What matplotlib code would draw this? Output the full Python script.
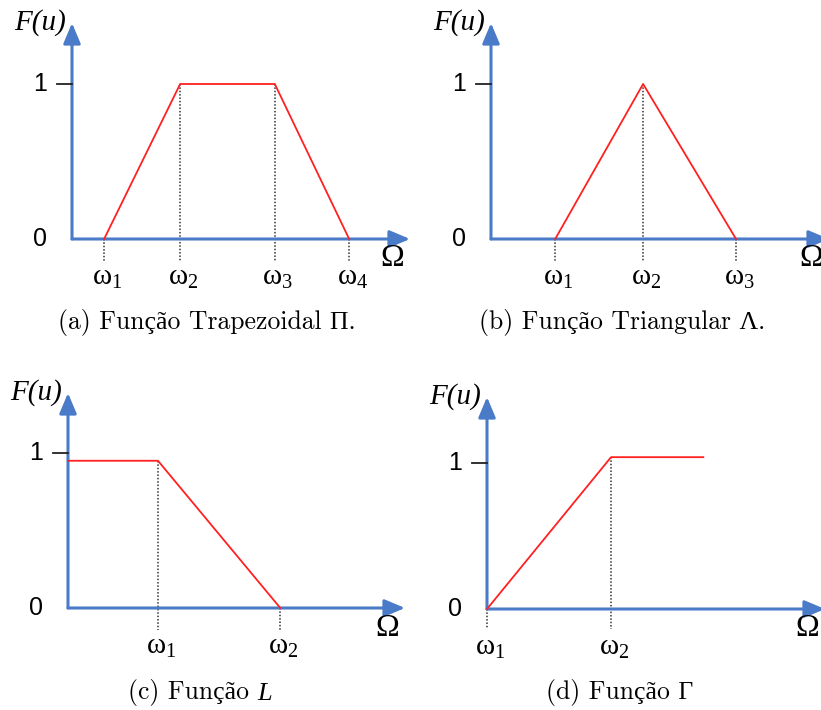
import matplotlib
matplotlib.use("Agg")
import matplotlib.pyplot as plt

plt.rcParams["mathtext.fontset"] = "custom"
plt.rcParams["mathtext.rm"] = "Liberation Serif"
plt.rcParams["mathtext.it"] = "Liberation Serif:italic"

W, H = 821, 710
BLUE = "#4A7BC8"
RED = "#FF2020"

# knot positions (axis length = 10) and membership values
TRAP_X = [0.95, 3.2, 6.0, 8.2]
TRAP_Y = [0, 1, 1, 0]
TRI_X = [1.9, 4.5, 7.25]
TRI_Y = [0, 1, 0]
L_X = [0, 2.67, 6.3]
L_Y = [0.95, 0.95, 0]
G_X = [0, 3.67, 6.4]
G_Y = [0, 1.04, 1.04]

# which knots get a dotted guide + omega label
TRAP_MARKS = [0, 1, 2, 3]
TRI_MARKS = [0, 1, 2]
L_MARKS = [1, 2]
G_MARKS = [0, 1]

CAPTIONS = [
    ("(a) Função Trapezoidal Π.", ""),
    ("(b) Função Triangular Λ.", ""),
    ("(c) Função ", "L"),
    ("(d) Função Γ", ""),
]
CAPTION_POS = [(207, 322), (622, 322), (203, 692), (620, 692)]


def panel(fig, box, ytop, xs, ys, marks):
    left, right, bottom, top = box
    ax = fig.add_axes([left / W, 1 - bottom / H, (right - left) / W, (bottom - top) / H])
    ax.set_xlim(0, 10)
    ax.set_ylim(0, ytop)
    ax.axis("off")

    arrow = dict(arrowstyle="-|>,head_length=0.95,head_width=0.4", color=BLUE,
                 lw=2.2, mutation_scale=13, shrinkA=0, shrinkB=0)
    ax.annotate("", xy=(10, 0), xytext=(0, 0), arrowprops=arrow, annotation_clip=False)
    ax.annotate("", xy=(0, ytop), xytext=(0, 0), arrowprops=arrow, annotation_clip=False)

    ax.plot([-0.45, 0], [1, 1], color="#222222", lw=1.3, clip_on=False, zorder=3)
    ax.plot(xs, ys, color=RED, lw=1.3, clip_on=False, zorder=4)

    for n, i in enumerate(marks, start=1):
        ax.plot([xs[i], xs[i]], [ys[i], -0.14], color="#333333", lw=1.1,
                ls=(0, (1, 1.2)), clip_on=False, zorder=2)
        ax.annotate(f"$\\mathrm{{ω}}_{n}$", xy=(xs[i], 0), xytext=(3, -38),
                    textcoords="offset pixels", ha="center", va="center",
                    fontsize=21, annotation_clip=False)

    sans = dict(textcoords="offset pixels", ha="center", va="center",
                family="Liberation Sans", fontsize=18, annotation_clip=False)
    ax.annotate("1", xy=(0, 1), xytext=(-32, 0), **sans)
    ax.annotate("0", xy=(0, 0), xytext=(-32, 0), **sans)
    ax.annotate("Ω", xy=(10, 0), xytext=(-18, -20), textcoords="offset pixels",
                ha="center", va="center", family="Liberation Serif", fontsize=23,
                annotation_clip=False)
    ax.annotate("F(u)", xy=(0, ytop), xytext=(-32, 0), textcoords="offset pixels",
                ha="center", va="center", family="Liberation Serif", style="italic",
                fontsize=21, annotation_clip=False)
    return ax


def main():
    fig = plt.figure(figsize=(W / 100, H / 100), dpi=100)
    panel(fig, (72, 410, 239, 23), 216 / 155, TRAP_X, TRAP_Y, TRAP_MARKS)
    panel(fig, (491, 829, 239, 23), 216 / 155, TRI_X, TRI_Y, TRI_MARKS)
    panel(fig, (68, 405, 608, 393), 215 / 155, L_X, L_Y, L_MARKS)
    panel(fig, (487, 825, 609, 397), 212 / 146, G_X, G_Y, G_MARKS)

    cap_font = ["cmr10", "Liberation Serif"]
    for (cx, cy), (text, tail) in zip(CAPTION_POS, CAPTIONS):
        if not tail:
            fig.text(cx / W, 1 - cy / H, text, ha="center", va="center",
                     family=cap_font, fontsize=18.5)
        else:
            t = fig.text((cx - 10) / W, 1 - cy / H, text, ha="center", va="center",
                         family=cap_font, fontsize=18.5)
            fig.text(0, 0, tail, family="Liberation Serif", style="italic",
                     fontsize=19, ha="left", va="baseline",
                     transform=matplotlib.transforms.offset_copy(
                         fig.transFigure, fig=fig, x=0, y=0))
            fig.canvas.draw()
            bb = t.get_window_extent()
            fig.texts[-1].set_position((bb.x1 / W, (bb.y0 + 5) / H))

    fig.savefig("out.png", dpi=100)


if __name__ == "__main__":
    main()
